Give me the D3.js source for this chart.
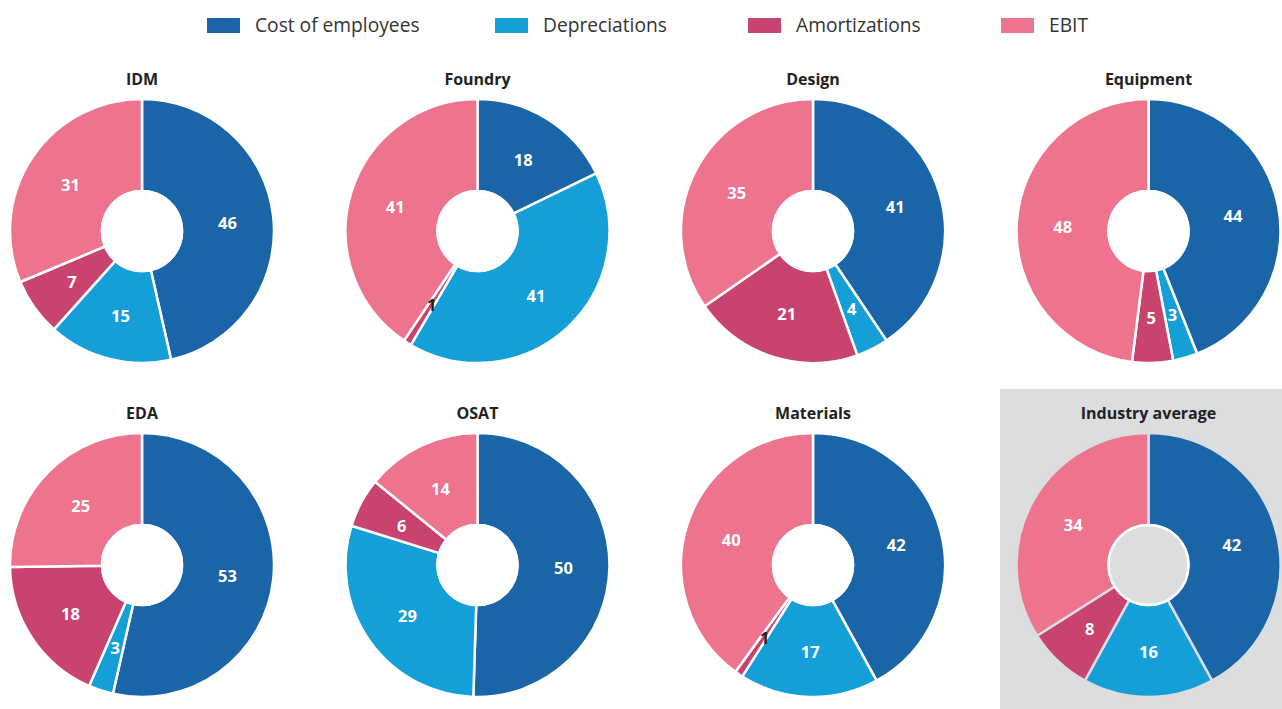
<!DOCTYPE html>
<html>
<head>
<meta charset="utf-8">
<script src="https://cdn.jsdelivr.net/npm/d3@7/dist/d3.min.js"></script>
<style>
  html, body { margin: 0; padding: 0; background: #fff; }
  svg { display: block; }
</style>
</head>
<body>
<div id="chart"></div>
<script>
  var series = ["Cost of employees", "Depreciations", "Amortizations", "EBIT"];
  var colors = ["#1a65a7", "#159fd9", "#c9436f", "#ee738d"];

  var segments = ["IDM", "Foundry", "Design", "Equipment", "EDA", "OSAT", "Materials", "Industry average"];
  var costOfEmployees = [46, 18, 41, 44, 53, 50, 42, 42];
  var depreciations = [15, 41, 4, 3, 3, 29, 17, 16];
  var amortizations = [7, 1, 21, 5, 18, 6, 1, 8];
  var ebit = [31, 41, 35, 48, 25, 14, 40, 34];

  var width = 1282, height = 709;
  var font = "'Open Sans', 'Noto Sans', sans-serif";

  var svg = d3.select("#chart").append("svg")
    .attr("width", width)
    .attr("height", height)
    .attr("viewBox", "0 0 " + width + " " + height);

  // legend
  var legendX = [207, 495, 748, 1001];
  var legend = svg.append("g").selectAll("g")
    .data(series)
    .join("g")
    .attr("transform", function (d, i) { return "translate(" + legendX[i] + ",18)"; });

  legend.append("rect")
    .attr("width", 33)
    .attr("height", 15)
    .attr("fill", function (d, i) { return colors[i]; });

  legend.append("text")
    .attr("x", 48)
    .attr("y", 7.5)
    .attr("dy", "0.36em")
    .attr("font-family", font)
    .attr("font-size", 19.2)
    .attr("fill", "#333")
    .text(function (d) { return d; });

  // grid of donuts
  var colX = d3.scalePoint().domain([0, 1, 2, 3]).range([142, 1148.5]);
  var rowY = d3.scalePoint().domain([0, 1]).range([231, 565]);
  var outerR = 132, innerR = 40;

  // highlighted panel for the average
  svg.append("rect")
    .attr("x", 1000)
    .attr("y", 389)
    .attr("width", 282)
    .attr("height", 320)
    .attr("fill", "#dcdddf");

  var pie = d3.pie().sort(null).value(function (d) { return d.value; });
  var arc = d3.arc().innerRadius(innerR).outerRadius(outerR);

  segments.forEach(function (name, i) {
    var cx = colX(i % 4), cy = rowY(Math.floor(i / 4));
    var values = [costOfEmployees[i], depreciations[i], amortizations[i], ebit[i]];
    var data = values.map(function (v, k) { return {value: v, key: k}; });
    var bg = i === 7 ? "#dcdddf" : "#ffffff";

    svg.append("text")
      .attr("x", cx)
      .attr("y", cy - 146)
      .attr("text-anchor", "middle")
      .attr("font-family", font)
      .attr("font-size", 16)
      .attr("font-weight", 700)
      .attr("fill", "#222")
      .text(name);

    var g = svg.append("g").attr("transform", "translate(" + cx + "," + cy + ")");

    var arcs = pie(data);

    g.selectAll("path")
      .data(arcs)
      .join("path")
      .attr("d", arc)
      .attr("fill", function (d) { return colors[d.data.key]; })
      .attr("stroke", bg)
      .attr("stroke-width", 2.5)
      .attr("stroke-linejoin", "round");

    g.append("circle")
      .attr("r", innerR)
      .attr("fill", bg)
      .attr("stroke", "#fff")
      .attr("stroke-width", 2.5);

    g.selectAll("text")
      .data(arcs)
      .join("text")
      .attr("transform", function (d) { return "translate(" + arc.centroid(d) + ")"; })
      .attr("text-anchor", "middle")
      .attr("dy", "0.45em")
      .attr("font-family", font)
      .attr("font-size", 16.5)
      .attr("font-weight", 700)
      .attr("fill", function (d) { return d.data.value < 2 ? "#222" : "#fff"; })
      .text(function (d) { return d.data.value; });
  });
</script>
</body>
</html>
